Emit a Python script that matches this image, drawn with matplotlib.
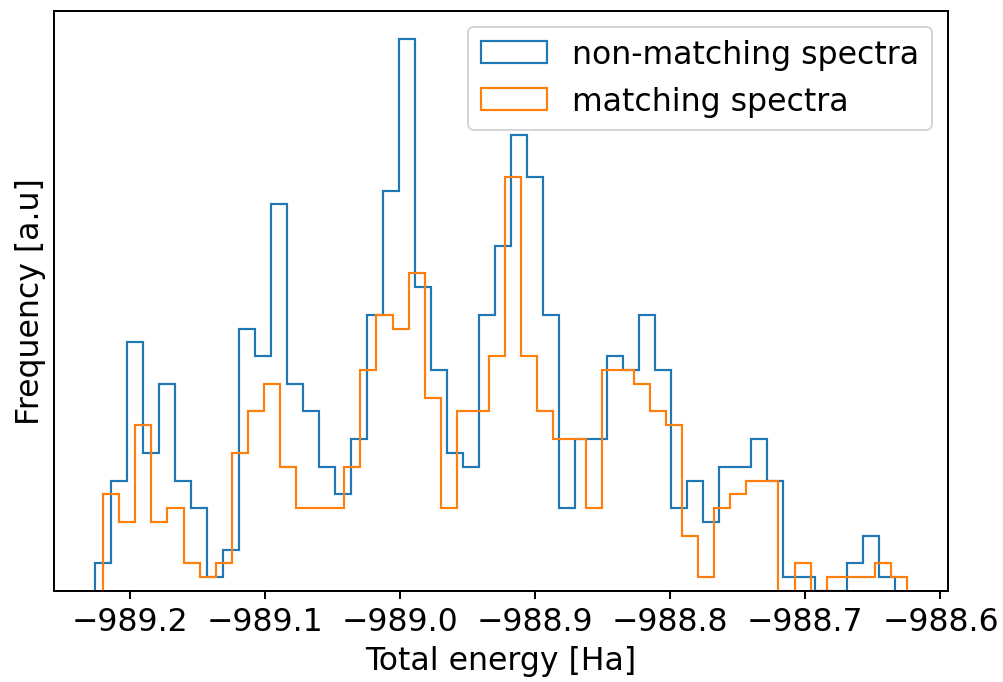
"""
Histogram of total energies: non-matching vs matching spectra (step outlines).
Output: out.png
"""

import numpy as np
import matplotlib
matplotlib.use('Agg')
import matplotlib.pyplot as plt

# ── Bin counts (50 bins each) ──
nonmatch_range = (-989.2259, -988.6333)
nonmatch_counts = [2, 8, 18, 10, 15, 8, 6, 1, 3, 19,
                   17, 28, 15, 13, 9, 7, 11, 20, 29, 40,
                   22, 16, 10, 9, 20, 25, 33, 30, 20, 6,
                   11, 11, 17, 16, 20, 16, 6, 8, 5, 9,
                   9, 11, 8, 1, 1, 0, 0, 2, 4, 1]

match_range = (-989.2198, -988.6247)
match_counts = [7, 5, 12, 5, 6, 2, 1, 2, 10, 13,
                15, 9, 6, 6, 6, 9, 16, 20, 19, 23,
                14, 6, 13, 13, 17, 30, 17, 13, 11, 11,
                6, 16, 16, 15, 13, 12, 4, 1, 6, 7,
                8, 8, 0, 2, 0, 1, 1, 1, 2, 1]

series_labels = ['non-matching spectra', 'matching spectra']
series_colors = ['#1f77b4', '#ff7f0e']

xlabel = 'Total energy [Ha]'
ylabel = 'Frequency [a.u]'

DPI = 142
plt.rcParams.update({'font.size': 16, 'axes.linewidth': 1.0,
                     'xtick.major.width': 1.0, 'xtick.major.size': 4.0,
                     'legend.handlelength': 2.1})
fig = plt.figure(figsize=(1003 / DPI, 683 / DPI), dpi=DPI)
ax = fig.add_axes([54.3 / 1003, 91 / 683, 893.4 / 1003, 580 / 683])

for (lo, hi), counts, label, color in zip([nonmatch_range, match_range],
                                          [nonmatch_counts, match_counts],
                                          series_labels, series_colors):
    edges = np.linspace(lo, hi, len(counts) + 1)
    centers = 0.5 * (edges[:-1] + edges[1:])
    ax.hist(centers, bins=edges, weights=counts, histtype='step',
            color=color, label=label, linewidth=1.1)

ax.set_yticks([])
ax.set_xlabel(xlabel)
ax.set_ylabel(ylabel)
ax.legend(loc='upper right')

fig.savefig('out.png', dpi=DPI)
plt.close('all')
